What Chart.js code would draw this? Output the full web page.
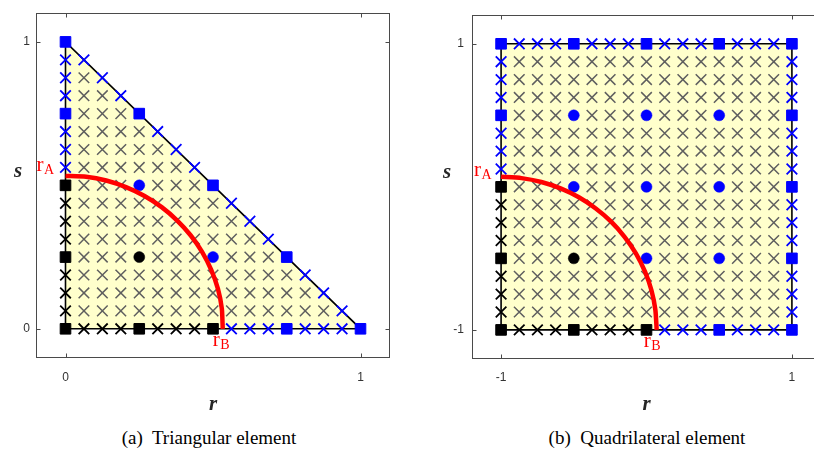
<!DOCTYPE html>
<html><head><meta charset="utf-8">
<script src="https://cdn.jsdelivr.net/npm/chart.js@4/dist/chart.umd.min.js"></script>
<style>
html,body{margin:0;padding:0;width:814px;height:456px;overflow:hidden;background:#fff;}
#c1{position:absolute;left:0;top:0;}
#c2{position:absolute;left:420px;top:0;}
.cap{position:absolute;top:427px;font-family:"Liberation Serif","Times New Roman",Times,serif;font-size:19px;color:#000;white-space:pre;transform:translateX(-50%);line-height:22px;}
</style></head><body>
<canvas id="c1" width="420" height="420" style="width:420px;height:420px"></canvas>
<canvas id="c2" width="420" height="420" style="width:420px;height:420px"></canvas>
<div class="cap" style="left:209px">(a)  Triangular element</div>
<div class="cap" style="left:647px">(b)  Quadrilateral element</div>
<script>
// ---------- data ----------
const triGrid = [0,0.0625,0.125,0.1875,0.25,0.3125,0.375,0.4375,0.5,0.5625,0.625,0.6875,0.75,0.8125,0.875,0.9375,1];
const quadGrid = [-1,-0.875,-0.75,-0.625,-0.5,-0.375,-0.25,-0.125,0,0.125,0.25,0.375,0.5,0.625,0.75,0.875,1];
const triTicks = [0, 1];
const quadTicks = [-1, 1];
const triOutlineR = [0, 1, 0, 0];
const triOutlineS = [0, 0, 1, 0];
const quadOutlineR = [-1, 1, 1, -1, -1];
const quadOutlineS = [-1, -1, 1, 1, -1];
const triFillR = [0, 1];
const triFillS = [1, 0];
const quadFillR = [-1, 1];
const quadFillS = [1, 1];
const triBlackSquares = [[0,0],[0.25,0],[0.5,0],[0,0.25],[0,0.5]];
const triBlueSquares = [[0.75,0],[1,0],[0,0.75],[0,1],[0.25,0.75],[0.5,0.5],[0.75,0.25]];
const triBlackCircles = [[0.25,0.25]];
const triBlueCircles = [[0.25,0.5],[0.5,0.25]];
const quadBlackSquares = [[-1,-1],[-0.5,-1],[0,-1],[-1,-0.5],[-1,0]];
const quadBlueSquares = [[0.5,-1],[1,-1],[1,-0.5],[1,0],[1,0.5],[1,1],[0.5,1],[0,1],[-0.5,1],[-1,1],[-1,0.5]];
const quadBlackCircles = [[-0.5,-0.5]];
const quadBlueCircles = [[0,-0.5],[0.5,-0.5],[-0.5,0],[0,0],[0.5,0],[-0.5,0.5],[0,0.5],[0.5,0.5]];
const triSplit = 0.5;   // black edge nodes up to this coordinate
const quadSplit = 0;
const triArcR = [0.533,0.530,0.517,0.494,0.463,0.424,0.378,0.326,0.268,0.205,0.138,0.070,0];
const triArcS = [0,0.070,0.138,0.205,0.268,0.326,0.378,0.424,0.463,0.494,0.517,0.530,0.533];
const quadArcR = [0.070,0.061,0.034,-0.011,-0.073,-0.151,-0.243,-0.349,-0.465,-0.591,-0.723,-0.860,-1];
const quadArcS = [-1,-0.860,-0.723,-0.591,-0.465,-0.349,-0.243,-0.151,-0.073,-0.011,0.034,0.061,0.070];

// ---------- helpers ----------
const EPS = 1e-9;
const toPts = (rs, ss) => rs.map((r, i) => ({x: r, y: ss[i]}));
const pairPts = arr => arr.map(p => ({x: p[0], y: p[1]}));
const key = (r, s) => r.toFixed(4) + ',' + s.toFixed(4);

function classifyTri() {
  const nodes = new Set([...triBlackSquares, ...triBlueSquares, ...triBlackCircles, ...triBlueCircles].map(p => key(p[0], p[1])));
  const inner = [], black = [], blue = [];
  triGrid.forEach(r => triGrid.forEach(s => {
    if (r + s > 1 + EPS) return;
    if (nodes.has(key(r, s))) return;
    const hyp = Math.abs(r + s - 1) < EPS;
    if (hyp) blue.push({x: r, y: s});
    else if (s === 0) (r <= triSplit ? black : blue).push({x: r, y: s});
    else if (r === 0) (s <= triSplit ? black : blue).push({x: r, y: s});
    else inner.push({x: r, y: s});
  }));
  return {inner, black, blue};
}
function classifyQuad() {
  const nodes = new Set([...quadBlackSquares, ...quadBlueSquares, ...quadBlackCircles, ...quadBlueCircles].map(p => key(p[0], p[1])));
  const inner = [], black = [], blue = [];
  quadGrid.forEach(r => quadGrid.forEach(s => {
    if (nodes.has(key(r, s))) return;
    const edge = Math.abs(r) === 1 || Math.abs(s) === 1;
    if (!edge) { inner.push({x: r, y: s}); return; }
    if ((s === -1 && r <= quadSplit) || (r === -1 && s <= quadSplit)) black.push({x: r, y: s});
    else blue.push({x: r, y: s});
  }));
  return {inner, black, blue};
}

const GREY = '#5f5f5f', BLUE = '#0000ff', BLACK = '#000000', RED = '#ff0000', YEL = '#ffffcc';

function markerSet(data, style, color, radius, bw, order, fillColor) {
  return {data, showLine: false, order, pointStyle: style, pointRadius: radius, pointHoverRadius: radius,
    pointBorderWidth: bw, pointHoverBorderWidth: bw, pointBorderColor: color, pointBackgroundColor: fillColor || color,
    borderColor: color, backgroundColor: color};
}

function datasets(c) {
  return [
    {data: c.arc, showLine: true, borderColor: RED, borderWidth: 4.5, pointRadius: 0, tension: 0.2, fill: false, order: 0, borderCapStyle: 'butt'},
    markerSet(c.blackCircles, 'circle', BLACK, 5.5, 0.5, 1),
    markerSet(c.blueCircles, 'circle', BLUE, 5.5, 0.5, 1),
    markerSet(c.blackSquares, 'rect', BLACK, 7.5, 1, 2),
    markerSet(c.blueSquares, 'rect', BLUE, 7.5, 1, 2),
    markerSet(c.edges.black, 'crossRot', BLACK, 7.5, 1.8, 3),
    markerSet(c.edges.blue, 'crossRot', BLUE, 7.5, 1.8, 3),
    {data: c.outline, showLine: true, borderColor: BLACK, borderWidth: 1.6, pointRadius: 0, fill: false, order: 4, tension: 0},
    markerSet(c.edges.inner, 'crossRot', GREY, 7.5, 1.5, 5),
    {data: c.fillLine, showLine: true, borderColor: 'rgba(0,0,0,0)', borderWidth: 0, pointRadius: 0, backgroundColor: YEL, fill: {value: c.fillTo}, order: 6, tension: 0}
  ];
}

function subLabel(ctx, main, sub, x, y) {
  ctx.fillStyle = RED;
  ctx.textAlign = 'left'; ctx.textBaseline = 'alphabetic';
  ctx.font = '21px "Liberation Serif", "Times New Roman", serif';
  ctx.fillText(main, x, y);
  const w = ctx.measureText(main).width;
  ctx.font = '14px "Liberation Serif", "Times New Roman", serif';
  ctx.fillText(sub, x + w + 0.5, y + 3.5);
}

function decorPlugin(c) {
  return {
    id: 'decor',
    afterDatasetsDraw(chart) {
      const {ctx, chartArea: a, scales: {x, y}} = chart;
      ctx.save();
      ctx.strokeStyle = '#4a4a4a'; ctx.lineWidth = 1;
      const L = Math.round(a.left) + 0.5, R = Math.round(a.right) - 0.5, T = Math.round(a.top) + 0.5, B = Math.round(a.bottom) - 0.5;
      ctx.strokeRect(L, T, R - L, B - T);
      ctx.beginPath();
      c.xTicks.forEach(v => {
        const px = Math.round(x.getPixelForValue(v)) + 0.5;
        ctx.moveTo(px, B); ctx.lineTo(px, B - 4);
        ctx.moveTo(px, T); ctx.lineTo(px, T + 4);
      });
      c.yTicks.forEach(v => {
        const py = Math.round(y.getPixelForValue(v)) + 0.5;
        ctx.moveTo(L, py); ctx.lineTo(L + 4, py);
        ctx.moveTo(R, py); ctx.lineTo(R - 4, py);
      });
      ctx.stroke();
      ctx.restore();
    },
    afterDraw(chart) {
      const {ctx, scales: {x, y}} = chart;
      ctx.save();
      ctx.fillStyle = '#262626';
      ctx.font = 'italic bold 21px "Liberation Serif", "Times New Roman", serif';
      ctx.textAlign = 'center'; ctx.textBaseline = 'middle';
      ctx.fillText('s', c.sPos[0], c.sPos[1]);
      const n = c.arc.length - 1;
      const ax = x.getPixelForValue(c.arc[n].x), ay = y.getPixelForValue(c.arc[n].y);
      const bx = x.getPixelForValue(c.arc[0].x), by = y.getPixelForValue(c.arc[0].y);
      subLabel(ctx, 'r', 'A', ax + c.aOff[0], ay + c.aOff[1]);
      subLabel(ctx, 'r', 'B', bx + c.bOff[0], by + c.bOff[1]);
      ctx.restore();
    }
  };
}

function makeChart(id, c) {
  const tickFont = {family: '"Liberation Sans", Arial, sans-serif', size: 12};
  return new Chart(document.getElementById(id), {
    type: 'line',
    data: {datasets: datasets(c)},
    options: {
      responsive: false, animation: false, events: [], devicePixelRatio: 1,
      layout: {padding: {left: 0, top: c.top, right: c.right, bottom: 0}},
      plugins: {legend: {display: false}, tooltip: {enabled: false}},
      scales: {
        x: {type: 'linear', position: 'bottom', min: c.min, max: c.max,
          grid: {display: false, drawTicks: false}, border: {display: false},
          afterBuildTicks: s => { s.ticks = c.xTicks.map(v => ({value: v})); },
          afterFit: s => { s.height = 420 - c.bottom; },
          ticks: {color: '#333', font: tickFont, padding: c.xPad, maxRotation: 0, autoSkip: false, callback: v => String(v)},
          title: {display: true, text: 'r', color: '#262626', padding: {top: 0, bottom: 3},
            font: {family: '"Liberation Serif", "Times New Roman", serif', size: 21, style: 'italic', weight: 'bold'}}
        },
        y: {type: 'linear', position: 'left', min: c.min, max: c.max,
          grid: {display: false, drawTicks: false}, border: {display: false},
          afterBuildTicks: s => { s.ticks = c.yTicks.map(v => ({value: v})); },
          afterFit: s => { s.width = c.left; },
          ticks: {color: '#333', font: tickFont, padding: c.yPad, autoSkip: false, callback: v => String(v)}
        }
      }
    },
    plugins: [decorPlugin(c)]
  });
}

makeChart('c1', {
  min: -0.1, max: 1.1, left: 36, top: 4.5, right: 30, bottom: 357.5, xPad: 13, yPad: 6,
  xTicks: triTicks, yTicks: triTicks,
  arc: toPts(triArcR, triArcS), outline: toPts(triOutlineR, triOutlineS),
  fillLine: toPts(triFillR, triFillS), fillTo: 0,
  blackSquares: pairPts(triBlackSquares), blueSquares: pairPts(triBlueSquares),
  blackCircles: pairPts(triBlackCircles), blueCircles: pairPts(triBlueCircles),
  edges: classifyTri(), sPos: [18, 172], aOff: [-29, -5], bOff: [-10, 17]
});
makeChart('c2', {
  min: -1.2, max: 1.2, left: 52, top: 9.5, right: 19, bottom: 358.5, xPad: 12.3, yPad: 8,
  xTicks: quadTicks, yTicks: quadTicks,
  arc: toPts(quadArcR, quadArcS), outline: toPts(quadOutlineR, quadOutlineS),
  fillLine: toPts(quadFillR, quadFillS), fillTo: -1,
  blackSquares: pairPts(quadBlackSquares), blueSquares: pairPts(quadBlueSquares),
  blackCircles: pairPts(quadBlackCircles), blueCircles: pairPts(quadBlueCircles),
  edges: classifyQuad(), sPos: [27, 173], aOff: [-27, -1], bOff: [-13, 17]
});
</script>
</body></html>
